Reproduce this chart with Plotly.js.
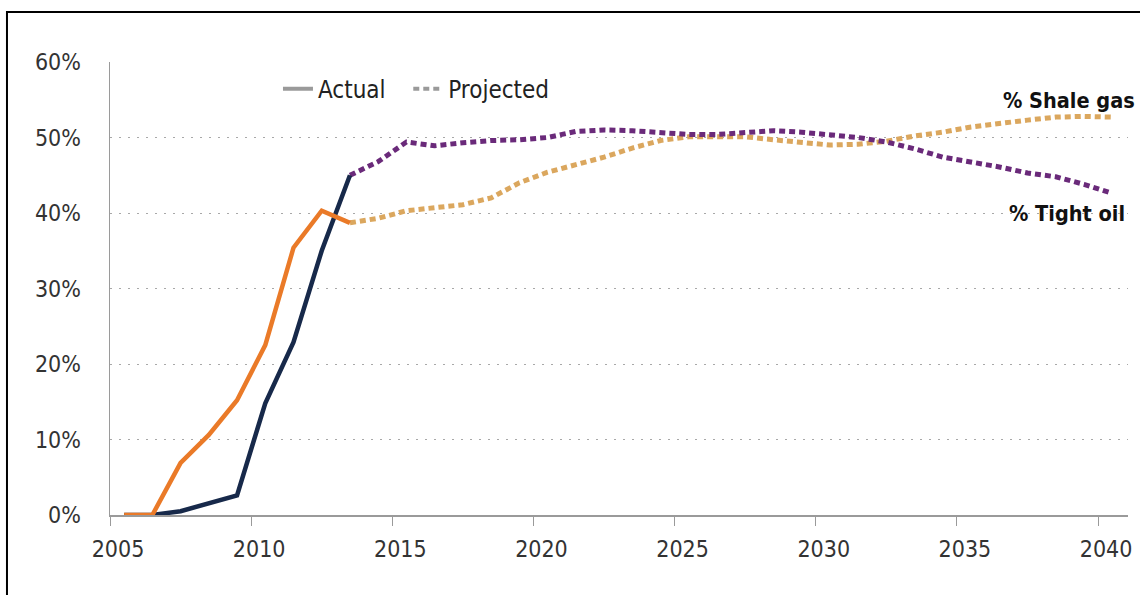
<!DOCTYPE html>
<html>
<head>
<meta charset="utf-8">
<script src="https://cdn.plot.ly/plotly-3.0.1.min.js"></script>
<style>
html,body{margin:0;padding:0;background:#fff;}
#chart{width:1140px;height:595px;}
</style>
</head>
<body>
<div id="chart"></div>
<script>
// Years
var actualYears = [2005,2006,2007,2008,2009,2010,2011,2012,2013];
var projYears = [2013,2014,2015,2016,2017,2018,2019,2020,2021,2022,2023,2024,2025,2026,2027,2028,2029,2030,2031,2032,2033,2034,2035,2036,2037,2038,2039,2040];

// % Tight oil (actual)
var tightOilActual = [0,0,0.5,1.5,2.6,14.8,22.9,35.0,45.0];
// % Shale gas (actual)
var shaleGasActual = [0,0,6.9,10.6,15.2,22.5,35.4,40.3,38.7];

// % Tight oil (projected)
var tightOilProj = [45.0,46.8,49.4,48.9,49.3,49.6,49.7,50.0,50.8,51.0,50.9,50.7,50.4,50.4,50.6,50.9,50.7,50.3,50.0,49.4,48.5,47.4,46.8,46.1,45.3,44.8,43.8,42.6];
// % Shale gas (projected)
var shaleGasProj = [38.7,39.3,40.3,40.7,41.1,42.0,44.0,45.4,46.4,47.4,48.6,49.6,50.1,50.1,50.1,49.7,49.4,49.0,49.1,49.5,50.2,50.7,51.4,51.9,52.3,52.7,52.8,52.7];

// Axis ticks
var xTickVals = [2004.5,2009.5,2014.5,2019.5,2024.5,2029.5,2034.5,2039.5];
var xTickText = ["2005","2010","2015","2020","2025","2030","2035","2040"];
var yTickVals = [0,10,20,30,40,50,60];
var yTickText = ["0%","10%","20%","30%","40%","50%","60%"];

var labelFont = "DejaVu Sans Condensed, Open Sans, sans-serif";

var dashPat = "6px,4px";

var traces = [
  {x: projYears, y: shaleGasProj, mode: 'lines', line: {color: '#dba75e', width: 5, dash: dashPat}, showlegend: false, hoverinfo: 'skip'},
  {x: projYears, y: tightOilProj, mode: 'lines', line: {color: '#6a2a7a', width: 5, dash: dashPat}, showlegend: false, hoverinfo: 'skip'},
  {x: actualYears, y: tightOilActual, mode: 'lines', line: {color: '#17294a', width: 4.5}, showlegend: false, hoverinfo: 'skip'},
  {x: actualYears, y: shaleGasActual, mode: 'lines', line: {color: '#ea7a28', width: 4.5}, showlegend: false, hoverinfo: 'skip'},
  {x: [null], y: [null], mode: 'lines', name: 'Actual', legend: 'legend', line: {color: '#9a9a9a', width: 4}},
  {x: [null], y: [null], mode: 'lines', name: 'Projected', legend: 'legend2', line: {color: '#9a9a9a', width: 4, dash: dashPat}}
];

var legendBase = {
  orientation: 'h', y: 0.99, xanchor: 'left', yanchor: 'top',
  font: {family: labelFont, size: 24, color: '#222'},
  bgcolor: 'rgba(0,0,0,0)', itemwidth: 30
};

var layout = {
  width: 1140, height: 595,
  margin: {l: 110, r: 12, t: 62, b: 80},
  paper_bgcolor: '#fff', plot_bgcolor: '#fff',
  font: {family: labelFont, color: '#333', size: 23},
  xaxis: {
    range: [2004.5, 2040.56],
    tickmode: 'array', tickvals: xTickVals, ticktext: xTickText,
    ticks: 'outside', ticklen: 9, tickcolor: '#9a9a9a', tickwidth: 1,
    ticklabelshift: 8, ticklabelstandoff: 4,
    showgrid: false, zeroline: false,
    showline: true, linecolor: '#9a9a9a', linewidth: 1.5,
    tickfont: {family: labelFont, size: 23, color: '#333'},
    fixedrange: true
  },
  yaxis: {
    range: [0, 60],
    tickmode: 'array', tickvals: yTickVals, ticktext: yTickText,
    ticks: '', ticklabelstandoff: 23,
    showgrid: true, gridcolor: '#a8a8a8', gridwidth: 1, griddash: '2px,7px',
    zeroline: false,
    showline: true, linecolor: '#9a9a9a', linewidth: 1.5,
    tickfont: {family: labelFont, size: 23, color: '#333'},
    fixedrange: true
  },
  showlegend: true,
  legend: Object.assign({}, legendBase, {x: 0.165}),
  legend2: Object.assign({}, legendBase, {x: 0.293}),
  annotations: [
    {xref: 'paper', yref: 'paper', x: 1.009, y: 0.915, xanchor: 'right', yanchor: 'middle', text: '% Shale gas', showarrow: false, font: {family: labelFont, size: 21.5, color: '#111', weight: 600}},
    {xref: 'paper', yref: 'paper', x: 0.999, y: 0.666, xanchor: 'right', yanchor: 'middle', text: '% Tight oil', showarrow: false, font: {family: labelFont, size: 21.5, color: '#111', weight: 600}}
  ],
  shapes: [
    {type: 'rect', xref: 'paper', yref: 'paper', x0: -0.1012, x1: 1.06, y0: -0.25, y1: 1.1104, line: {color: '#000', width: 2}, fillcolor: 'rgba(0,0,0,0)', layer: 'below'}
  ]
};

Plotly.newPlot('chart', traces, layout, {displayModeBar: false, staticPlot: true});
</script>
</body>
</html>
